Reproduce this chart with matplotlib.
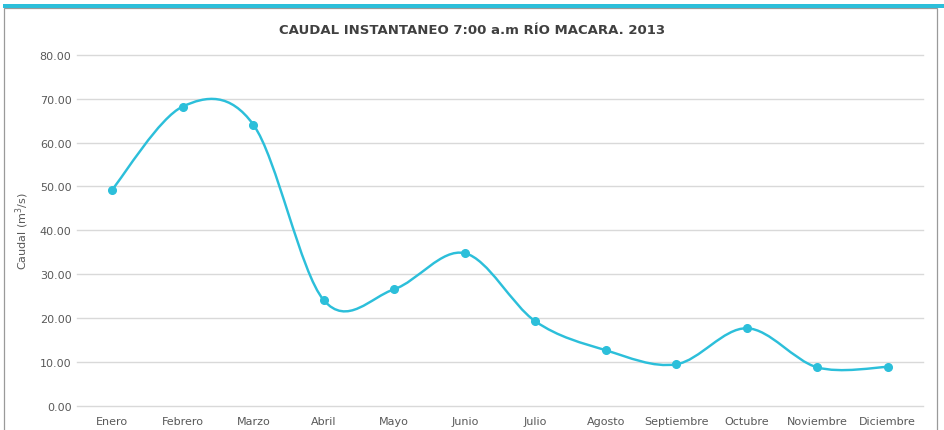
import matplotlib
matplotlib.use('Agg')
import matplotlib.pyplot as plt
from matplotlib.path import Path
from matplotlib.patches import PathPatch, Rectangle

# monthly instantaneous flow at 7:00, Rio Macara 2013
months = ['Enero', 'Febrero', 'Marzo', 'Abril', 'Mayo', 'Junio', 'Julio',
          'Agosto', 'Septiembre', 'Octubre', 'Noviembre', 'Diciembre']
caudal = [49.3, 68.2, 64.1, 24.1, 26.6, 34.8, 19.3, 12.7, 9.5, 17.7, 8.8, 8.9]
yticks = [0, 10, 20, 30, 40, 50, 60, 70, 80]

LINE = '#2cbfda'
TXT = '#595959'
GRID = '#d9d9d9'

fig = plt.figure(figsize=(9.44, 4.31), dpi=100)
W, H = 944, 431

# frame + teal top bar
fig.patches.append(Rectangle((3.5 / W, -0.1), 933 / W, 1.1 - 8.5 / H,
                             transform=fig.transFigure, fill=False,
                             edgecolor='#9a9a9a', lw=0.9))
fig.patches.append(Rectangle((3 / W, 1 - 9 / H), 941 / W, 4 / H,
                             transform=fig.transFigure, facecolor=LINE,
                             edgecolor='none'))

ax = fig.add_axes([77 / W, 24 / H, 846 / W, 351.3 / H])
xs = list(range(len(months)))

# smooth line like the spreadsheet one: catmull-rom as cubic bezier
pts = list(zip(xs, caudal))
verts = [pts[0]]
codes = [Path.MOVETO]
n = len(pts)
for i in range(n - 1):
    p0 = pts[max(i - 1, 0)]
    p1 = pts[i]
    p2 = pts[i + 1]
    p3 = pts[min(i + 2, n - 1)]
    c1 = (p1[0] + (p2[0] - p0[0]) / 6, p1[1] + (p2[1] - p0[1]) / 6)
    c2 = (p2[0] - (p3[0] - p1[0]) / 6, p2[1] - (p3[1] - p1[1]) / 6)
    verts += [c1, c2, p2]
    codes += [Path.CURVE4] * 3
ax.add_patch(PathPatch(Path(verts, codes), facecolor='none', edgecolor=LINE,
                       lw=1.75, capstyle='round', joinstyle='round', zorder=3))
ax.plot(xs, caudal, ls='none', marker='o', ms=5.5, color=LINE, zorder=4)

ax.set_xlim(-0.5, len(months) - 0.5)
ax.set_ylim(0, 80)
ax.set_yticks(yticks)
ax.set_yticklabels([f'{v:.2f}' for v in yticks])
ax.set_xticks(xs)
ax.set_xticklabels(months)
ax.tick_params(axis='both', length=0, labelsize=8, labelcolor=TXT)
ax.tick_params(axis='y', pad=4)
ax.tick_params(axis='x', pad=7)
ax.grid(axis='y', color=GRID, lw=1)
for gl in ax.get_ygridlines():
    gl.set_clip_on(False)
ax.set_axisbelow(True)
for s in ax.spines.values():
    s.set_visible(False)
ax.set_ylabel('Caudal (m$^3$/s)', fontsize=8, color=TXT, labelpad=6)

fig.text(0.5, 1 - 31 / H, 'CAUDAL INSTANTANEO 7:00 a.m RÍO MACARA. 2013',
         ha='center', va='center', fontsize=9.5, fontweight='bold',
         color='#404040')

fig.savefig('out.png', dpi=100)
